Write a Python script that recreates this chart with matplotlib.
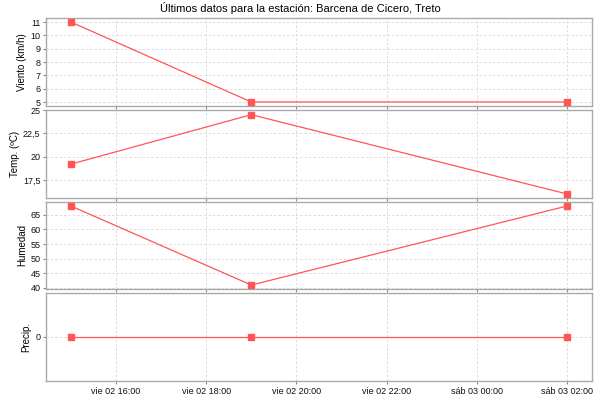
import matplotlib
matplotlib.use("Agg")
import matplotlib.pyplot as plt
import matplotlib.dates as mdates
from datetime import datetime

plt.rcParams["font.family"] = ["Liberation Sans", "DejaVu Sans"]

# Data
times = [datetime(2024, 8, 2, 15, 0), datetime(2024, 8, 2, 19, 0), datetime(2024, 8, 3, 2, 0)]
viento = [11, 5, 5]
temp = [19.2, 24.5, 16.0]
humedad = [68, 41, 68]
precip = [0, 0, 0]

xtick_times = [datetime(2024, 8, 2, 16), datetime(2024, 8, 2, 18), datetime(2024, 8, 2, 20),
               datetime(2024, 8, 2, 22), datetime(2024, 8, 3, 0), datetime(2024, 8, 3, 2)]
xtick_labels = ["vie 02 16:00", "vie 02 18:00", "vie 02 20:00",
                "vie 02 22:00", "sáb 03 00:00", "sáb 03 02:00"]

panels = [
    ("Viento (km/h)", viento, [5, 6, 7, 8, 9, 10, 11], ["5", "6", "7", "8", "9", "10", "11"]),
    ("Temp. (ºC)", temp, [17.5, 20, 22.5, 25], ["17,5", "20", "22,5", "25"]),
    ("Humedad", humedad, [40, 45, 50, 55, 60, 65], ["40", "45", "50", "55", "60", "65"]),
    ("Precip.", precip, [0], ["0"]),
]

W, H = 600, 400
fig = plt.figure(figsize=(6, 4), dpi=100)
fig.patch.set_facecolor("white")

boxes = [(18, 106), (110, 198), (202, 289), (293, 381)]
label_x = [22, 15, 22, 26]
left_px, right_px = 46, 592

red = "#ff5555"
frame = "#aaaaaa"

t0 = mdates.date2num(times[0])
t1 = mdates.date2num(times[-1])
span = t1 - t0
xlim = (t0 - 0.05 * span, t1 + 0.05 * span)

fig.text(0.5, 1 - 7.5 / H, "Últimos datos para la estación: Barcena de Cicero, Treto",
         ha="center", va="center", fontsize=8)

for i, ((label, vals, yt, ytl), (top, bot)) in enumerate(zip(panels, boxes)):
    ax = fig.add_axes([left_px / W, 1 - bot / H, (right_px - left_px) / W, (bot - top) / H])
    ax.plot(mdates.date2num(times), vals, color=red, lw=0.9, marker="s", ms=4.3,
            mfc=red, mec=red, zorder=3, clip_on=False)
    ax.set_xlim(*xlim)
    lo, hi = min(vals), max(vals)
    if hi > lo:
        m = 0.05 * (hi - lo)
        ax.set_ylim(lo - m, hi + m)
    else:
        ax.set_ylim(lo - 1, hi + 1)
    ax.set_yticks(yt)
    ax.set_yticklabels(ytl)
    ax.set_xticks(mdates.date2num(xtick_times))
    if i == 3:
        ax.set_xticklabels(xtick_labels)
    else:
        ax.set_xticklabels([])
        ax.tick_params(axis="x", length=0)
    ax.grid(True, color="#dcdcdc", linestyle=(0, (2.5, 2)), linewidth=0.7)
    ax.set_axisbelow(True)
    for s in ax.spines.values():
        s.set_color(frame)
        s.set_linewidth(1.0)
    ax.tick_params(axis="both", labelsize=6.5, colors="#888888", labelcolor="#111111",
                   length=2, width=0.8, pad=2)
    ax.set_ylabel(label, fontsize=7, va="center")
    ax.yaxis.set_label_coords((label_x[i] - left_px) / (right_px - left_px), 0.5)

fig.savefig("out.png", dpi=100)
